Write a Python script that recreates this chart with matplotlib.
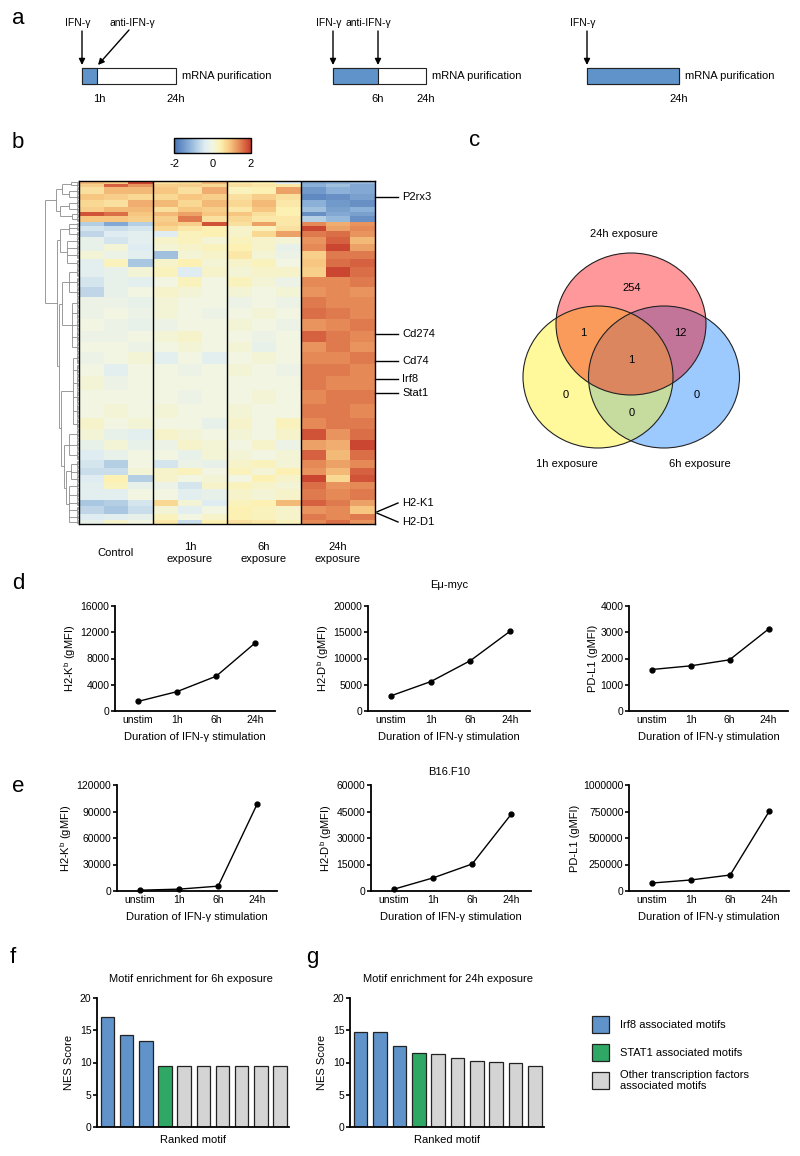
import numpy as np
import matplotlib
matplotlib.use('Agg')
import matplotlib.pyplot as plt
from matplotlib.patches import Rectangle, Ellipse
from matplotlib.colors import LinearSegmentedColormap, to_rgba
from matplotlib.ticker import FuncFormatter

plt.rcParams['font.family'] = ['Liberation Sans', 'DejaVu Sans']
plt.rcParams['mathtext.fontset'] = 'custom'
plt.rcParams['mathtext.rm'] = 'Liberation Sans'
plt.rcParams['axes.unicode_minus'] = False

# ------------------------------------------------------------------ data
# panel a : schematic
schematic_labels = ['1h', '6h', '24h']

# panel b : heatmap (row bands, 12 columns)
heat_group_labels = ['Control', '1h\nexposure', '6h\nexposure', '24h\nexposure']
band_rows = [2, 3, 5, 5, 5, 4, 3, 5, 3, 4, 5, 5, 6, 6, 6, 8, 8, 8, 8, 9, 9,
             9, 8, 9, 9, 11, 11, 11, 9, 8, 8, 8, 6, 6, 5, 6, 8, 5, 6, 5, 3]
band_values = [
    [1.0, 0.9, 1.9, 0.6, 0.7, 1.0, 0.5, 0.4, -0.4, -1.3, -1.2, -1.1],
    [0.8, 1.7, 1.3, 0.8, 0.8, 0.7, 0.6, 0.5, 0.5, -1.2, -1.0, -1.3],
    [0.6, 1.0, 1.0, 0.9, 0.6, 1.1, 0.3, 0.4, 1.2, -1.5, -1.2, -1.3],
    [0.9, 0.8, 0.7, 0.7, 0.9, 0.8, 0.6, 0.8, 0.6, -1.7, -1.6, -1.4],
    [0.7, 0.6, 1.1, 1.0, 0.7, 1.0, 0.7, 1.0, 0.5, -1.2, -1.5, -1.6],
    [0.8, 1.0, 1.0, 0.6, 0.9, 0.8, 0.5, 0.9, 0.4, -1.0, -1.4, -1.2],
    [1.8, 1.6, 0.9, 1.0, 1.2, 0.9, 0.9, 0.6, 0.4, -1.6, -1.3, -1.4],
    [0.9, 0.9, 0.8, 0.8, 1.5, 0.6, 0.7, 0.5, 0.5, -0.8, -1.1, -1.6],
    [-0.8, -1.3, -0.8, 0.9, 0.8, 1.8, 0.6, 1.2, 0.5, 1.4, 1.1, 1.3],
    [-0.5, -0.6, -0.5, 0.7, 0.5, 0.4, 0.2, 0.3, 0.6, 1.9, 1.2, 1.4],
    [-0.7, -0.4, -0.3, -0.4, 0.3, 0.4, 0.2, 0.7, 1.2, 1.5, 1.6, 1.3],
    [-0.2, -0.5, -0.3, 0.2, 0.3, 0.1, 0.3, 0.2, 0.1, 1.3, 1.7, 1.0],
    [-0.2, 0.1, -0.4, 0.1, 0.2, 0.3, 0.4, 0.2, -0.2, 1.4, 1.9, 1.2],
    [0.1, -0.1, -0.3, -1.0, 0.1, 0.2, 0.5, 0.1, -0.1, 0.8, 1.5, 1.5],
    [-0.3, 0.3, -0.9, 0.2, 0.4, 0.1, 0.2, 0.3, 0.0, 0.9, 1.6, 1.7],
    [-0.3, -0.2, 0.1, 0.3, -0.4, 0.2, 0.1, 0.2, 0.2, 0.8, 1.9, 1.6],
    [-0.5, -0.2, -0.3, 0.0, 0.3, 0.0, 0.3, 0.1, -0.1, 1.4, 1.4, 1.5],
    [-0.7, -0.2, 0.0, 0.2, 0.1, 0.0, 0.1, 0.0, 0.1, 1.3, 1.4, 1.3],
    [-0.1, -0.1, -0.2, 0.1, 0.0, 0.0, -0.1, 0.0, -0.1, 1.5, 1.4, 1.4],
    [-0.1, 0.0, -0.1, 0.1, 0.0, -0.1, 0.0, 0.1, 0.0, 1.6, 1.5, 1.4],
    [0.0, -0.1, -0.2, -0.1, 0.0, 0.0, 0.1, 0.0, -0.1, 1.3, 1.4, 1.5],
    [-0.1, -0.1, 0.0, 0.1, 0.2, 0.0, 0.0, -0.1, 0.0, 1.7, 1.5, 1.4],
    [0.0, 0.0, -0.1, 0.0, 0.1, 0.0, 0.1, -0.2, 0.0, 1.3, 1.5, 1.3],
    [-0.1, 0.0, 0.1, -0.3, 0.0, -0.3, 0.0, 0.1, 0.0, 1.4, 1.4, 1.5],
    [0.0, -0.3, 0.0, 0.0, -0.1, 0.0, 0.1, 0.0, -0.1, 1.5, 1.5, 1.4],
    [0.1, -0.1, 0.0, 0.0, 0.0, 0.0, 0.0, 0.0, 0.0, 1.5, 1.4, 1.4],
    [0.0, 0.0, 0.0, 0.0, -0.1, 0.0, 0.0, 0.1, 0.0, 1.4, 1.5, 1.5],
    [0.0, 0.1, 0.0, 0.1, 0.0, 0.0, 0.1, 0.0, 0.0, 1.5, 1.5, 1.4],
    [0.2, 0.0, 0.1, 0.0, 0.0, -0.2, 0.2, 0.0, 0.3, 1.4, 1.5, 1.5],
    [0.1, -0.2, -0.3, 0.2, 0.1, 0.0, 0.1, 0.0, 0.2, 1.8, 1.3, 1.6],
    [-0.2, 0.1, -0.2, -0.1, 0.2, 0.1, 0.0, 0.2, -0.1, 1.2, 1.1, 1.9],
    [-0.4, -0.2, 0.0, 0.0, -0.2, 0.1, 0.1, 0.0, 0.1, 1.7, 1.0, 1.6],
    [-0.5, -0.8, 0.0, -0.5, -0.1, -0.2, 0.2, 0.3, 0.1, 1.4, 1.2, 1.4],
    [-0.6, -0.6, 0.1, 0.2, 0.3, 0.0, 0.3, 0.1, 0.4, 1.3, 1.0, 1.7],
    [-0.4, 0.4, -0.8, 0.2, 0.0, 0.1, 0.0, 0.4, 0.2, 1.9, 0.7, 1.8],
    [-0.3, 0.3, -0.2, -0.1, -0.5, 0.2, 0.3, 0.2, 0.1, 1.6, 1.3, 1.4],
    [-0.3, -0.3, 0.0, 0.0, -0.3, -0.2, 0.2, 0.1, 0.2, 1.5, 1.4, 1.5],
    [-0.9, -0.8, -0.5, 0.7, 0.1, -0.4, 0.3, 0.4, 1.0, 1.7, 1.5, 1.2],
    [-0.7, -0.9, -0.6, 0.1, -0.3, 0.0, 0.4, 0.3, 0.2, 1.3, 1.4, 0.9],
    [-0.4, -0.3, -0.2, 0.3, 0.0, 0.2, 0.4, 0.3, 0.2, 1.5, 1.4, 1.5],
    [-0.2, 0.2, 0.0, 0.5, -0.6, 0.4, 0.6, 0.5, 0.3, 1.4, 1.6, 1.3],
]
gene_labels = ['P2rx3', 'Cd274', 'Cd74', 'Irf8', 'Stat1', 'H2-K1', 'H2-D1']
gene_rows = [12, 119, 140, 154, 165, 258, 259]
# dendrogram: (merge height, children); ints are row bands
dendro_tree = (1.0, [
    (0.68, [(0.50, [(0.25, [0, 1]), (0.30, [2, 3])]),
            (0.55, [(0.28, [4, 5]), (0.22, [6, 7])])]),
    (0.66, [(0.55, [(0.30, [8, 9, 10]), (0.35, [11, 12, 13, 14])]),
            (0.60, [(0.50, [(0.28, [15, 16, 17]), (0.20, [18, 19, 20, 21, 22])]),
                    (0.52, [(0.18, [23, 24, 25, 26, 27, 28]),
                            (0.45, [(0.30, [29, 30, 31]),
                                    (0.38, [(0.25, [32, 33, 34]),
                                            (0.30, [35, 36, 37, 38, 39, 40])])])])])])])

# panel c : Venn (order of key digits: 24h, 1h, 6h)
venn_labels = ['24h exposure', '1h exposure', '6h exposure']
venn_region_keys = ['100', '010', '001', '110', '101', '011', '111']
venn_region_counts = [254, 0, 0, 1, 12, 0, 1]

# panels d, e
durations = ['unstim', '1h', '6h', '24h']
emyc_h2kb = [1450, 2950, 5300, 10400]
emyc_h2db = [2900, 5600, 9600, 15200]
emyc_pdl1 = [1580, 1720, 1950, 3120]
b16_h2kb = [900, 2100, 5500, 99000]
b16_h2db = [1000, 7400, 15300, 43600]
b16_pdl1 = [75000, 104000, 151000, 755000]

# panels f, g
motif_6h = [17.0, 14.2, 13.3, 9.5, 9.4, 9.4, 9.4, 9.4, 9.4, 9.4]
motif_24h = [14.7, 14.7, 12.5, 11.55, 11.3, 10.65, 10.25, 10.1, 9.9, 9.45]
motif_class_6h = ['Irf8', 'Irf8', 'Irf8', 'STAT1'] + ['Other'] * 6
motif_class_24h = ['Irf8', 'Irf8', 'Irf8', 'STAT1'] + ['Other'] * 6
legend_labels = ['Irf8 associated motifs', 'STAT1 associated motifs',
                 'Other transcription factors\nassociated motifs']

# ------------------------------------------------------------------ styles
W, H = 800, 1156
fig = plt.figure(figsize=(8, 11.56), dpi=100)

BLUE = '#5f93c9'
GREEN = '#2fa865'
GREY = '#d4d4d4'
class_colors = {'Irf8': BLUE, 'STAT1': GREEN, 'Other': GREY}


def px_axes(x0, y0, x1, y1, **kw):
    return fig.add_axes([x0 / W, 1 - y1 / H, (x1 - x0) / W, (y1 - y0) / H], **kw)


heat_cmap = LinearSegmentedColormap.from_list('heat', [
    (0.00, '#4672b4'), (0.20, '#8cb1d8'), (0.40, '#dfedf2'), (0.50, '#f1f6e2'),
    (0.60, '#fcf1b2'), (0.72, '#f8c983'), (0.85, '#e68a57'), (1.00, '#c63a2b')])

# ------------------------------------------------------------------ panel b
nrows = sum(band_rows)
heat = np.repeat(np.array(band_values), band_rows, axis=0)
axh = px_axes(79, 181, 375, 524)
im = axh.imshow(heat, cmap=heat_cmap, vmin=-2, vmax=2, aspect='auto',
                interpolation='nearest')
for xsep in (2.5, 5.5, 8.5):
    axh.axvline(xsep, color='black', lw=1)
for sp in axh.spines.values():
    sp.set_linewidth(1)
axh.set_yticks([])
axh.set_xticks([1, 4, 7, 10])
axh.set_xticklabels(heat_group_labels, fontsize=8)
axh.tick_params(axis='x', length=0, pad=21)
for lab in axh.get_xticklabels():
    lab.set_verticalalignment('center')

cax = px_axes(174, 138, 251, 153)
cb = fig.colorbar(im, cax=cax, orientation='horizontal', ticks=[-2, 0, 2])
cb.outline.set_linewidth(1)
cax.tick_params(length=0, labelsize=8, pad=4)

# dendrogram
axd = px_axes(44, 181, 79, 524)
axd.set_ylim(nrows - 0.5, -0.5)
axd.set_xlim(1.03, 0)
axd.axis('off')
band_start = np.concatenate([[0], np.cumsum(band_rows)[:-1]])
DC, DLW = '#8a8a8a', 0.6


def draw_dendro(node):
    if isinstance(node, (int, np.integer)):
        rows = np.arange(band_start[node], band_start[node] + band_rows[node])
        lx = 0.06
        axd.hlines(rows, 0, lx, color=DC, lw=DLW)
        axd.vlines(lx, rows[0], rows[-1], color=DC, lw=DLW)
        return rows.mean(), lx
    h, children = node
    pts = [draw_dendro(ch) for ch in children]
    ys = [p[0] for p in pts]
    for y, x in pts:
        axd.hlines(y, x, h, color=DC, lw=DLW)
    axd.vlines(h, min(ys), max(ys), color=DC, lw=DLW)
    return (min(ys) + max(ys)) / 2, h


draw_dendro(dendro_tree)

# ------------------------------------------------------------------ panels d, e
plain = FuncFormatter(lambda v, p: f'{int(round(v))}')


def line_panel(box, vals, ymax, yticks, ylabel):
    ax = px_axes(*box)
    ax.plot(range(len(durations)), vals, '-o', color='black', lw=1, ms=3.5,
            clip_on=False)
    ax.set_xlim(-0.58, 3.5)
    ax.set_ylim(0, ymax)
    ax.set_yticks(yticks)
    ax.yaxis.set_major_formatter(plain)
    ax.set_xticks(range(len(durations)))
    ax.set_xticklabels(durations)
    for s in ('top', 'right'):
        ax.spines[s].set_visible(False)
    for s in ('left', 'bottom'):
        ax.spines[s].set_linewidth(1.3)
    ax.tick_params(axis='y', direction='out', length=3, width=1.2,
                   labelsize=7.5, pad=1)
    ax.tick_params(axis='x', length=0, labelsize=7.5, pad=3)
    ax.set_ylabel(ylabel, fontsize=8, labelpad=2)
    ax.set_xlabel('Duration of IFN-γ stimulation', fontsize=8, labelpad=5)
    return ax


KB = 'H2-K$^{\\mathregular{b}}$ (gMFI)'
DB = 'H2-D$^{\\mathregular{b}}$ (gMFI)'
line_panel((115, 606, 275, 711), emyc_h2kb, 16000, [0, 4000, 8000, 12000, 16000], KB)
line_panel((368, 606, 530, 711), emyc_h2db, 20000, [0, 5000, 10000, 15000, 20000], DB)
line_panel((629, 606, 788, 711), emyc_pdl1, 4000, [0, 1000, 2000, 3000, 4000], 'PD-L1 (gMFI)')
line_panel((117, 785, 277, 891), b16_h2kb, 120000, [0, 30000, 60000, 90000, 120000], KB)
line_panel((371, 785, 531, 891), b16_h2db, 60000, [0, 15000, 30000, 45000, 60000], DB)
line_panel((629, 785, 789, 891), b16_pdl1, 1000000,
           [0, 250000, 500000, 750000, 1000000], 'PD-L1 (gMFI)')

# ------------------------------------------------------------------ panels f, g
def bar_panel(box, vals, classes):
    ax = px_axes(*box)
    ax.bar(range(len(vals)), vals, width=0.7,
           color=[class_colors[c] for c in classes],
           edgecolor='#222222', lw=0.9)
    ax.set_xlim(-0.55, len(vals) - 0.53)
    ax.set_ylim(0, 20)
    ax.set_yticks([0, 5, 10, 15, 20])
    ax.set_xticks([])
    for s in ('top', 'right'):
        ax.spines[s].set_visible(False)
    for s in ('left', 'bottom'):
        ax.spines[s].set_linewidth(1.3)
    ax.tick_params(axis='y', direction='out', length=3, width=1.2,
                   labelsize=7.5, pad=1)
    ax.set_ylabel('NES Score', fontsize=8, labelpad=4)
    ax.set_xlabel('Ranked motif', fontsize=8, labelpad=6)
    return ax


bar_panel((97, 998, 289, 1127), motif_6h, motif_class_6h)
bar_panel((350, 998, 544, 1127), motif_24h, motif_class_24h)

# ------------------------------------------------------------------ overlay
ov = fig.add_axes([0, 0, 1, 1])
ov.set_xlim(0, W)
ov.set_ylim(H, 0)
ov.axis('off')
ov.patch.set_alpha(0)

# panel letters
for letter, (x, y) in {'a': (12, 24), 'b': (12, 148), 'c': (469, 146),
                       'd': (12, 589), 'e': (12, 792), 'f': (10, 963),
                       'g': (306, 963)}.items():
    ov.text(x, y, letter, fontsize=16, ha='left', va='baseline')

# panel a schematic
def timeline(x0, width, blue_w, hour_label, hour_x, antibody_x=None,
             antibody_text_x=None, diagonal=False):
    ov.add_patch(Rectangle((x0, 68), width, 16, facecolor='white',
                           edgecolor='#222222', lw=0.8))
    ov.add_patch(Rectangle((x0, 68), blue_w, 16, facecolor=BLUE,
                           edgecolor='#222222', lw=0.8))
    ov.text(x0 + width + 6, 76, 'mRNA purification', fontsize=8,
            ha='left', va='center')
    ov.text(x0 + width, 99, '24h', fontsize=8, ha='center', va='center')
    if hour_label:
        ov.text(hour_x, 99, hour_label, fontsize=8, ha='center', va='center')
    ov.text(x0 - 4, 23, 'IFN-γ', fontsize=7.5, ha='center', va='center')
    ap = dict(arrowstyle='-|>', color='black', lw=1, mutation_scale=9,
              shrinkA=0, shrinkB=0)
    ov.annotate('', xy=(x0, 65), xytext=(x0, 31), arrowprops=ap)
    if antibody_x is not None:
        ov.text(antibody_text_x, 23, 'anti-IFN-γ', fontsize=7.5,
                ha='center', va='center')
        if diagonal:
            ov.annotate('', xy=(antibody_x, 65), xytext=(129, 30), arrowprops=ap)
        else:
            ov.annotate('', xy=(antibody_x, 65), xytext=(antibody_x, 31),
                        arrowprops=ap)


timeline(82, 94, 15, schematic_labels[0], 99, antibody_x=98,
         antibody_text_x=132, diagonal=True)
timeline(333, 93, 45, schematic_labels[1], 378, antibody_x=378,
         antibody_text_x=368)
timeline(587, 92, 92, None, None)

# heatmap gene labels
def row_to_px(r):
    return 181 + (r + 0.5) * 343 / nrows


for g, r in zip(gene_labels[:5], gene_rows[:5]):
    y = row_to_px(r)
    ov.plot([375, 398], [y, y], color='black', lw=1)
    ov.text(402, y, g, fontsize=8, ha='left', va='center')
for g, r, ty in zip(gene_labels[5:], gene_rows[5:], (503, 522)):
    y = row_to_px(r)
    ov.plot([377, 398], [y, ty], color='black', lw=1)
    ov.text(402, ty, g, fontsize=8, ha='left', va='center')

# panel c Venn
circles = [(631, 324, 75, 71), (598, 377, 75, 71), (664, 377, 75.5, 71)]
region_colors = {'100': '#fe989a', '010': '#fff99b', '001': '#9ccaff',
                 '110': '#fb9b5b', '101': '#c27599', '011': '#c6dc9e',
                 '111': '#dc8660'}
gx = np.arange(515, 746, 0.5) + 0.25
gy = np.arange(245, 456, 0.5) + 0.25
GX, GY = np.meshgrid(gx, gy)
masks = [((GX - cx) / rx) ** 2 + ((GY - cy) / ry) ** 2 <= 1 for cx, cy, rx, ry in circles]
rgba = np.zeros(GX.shape + (4,))
for key in venn_region_keys:
    m = np.ones(GX.shape, bool)
    for bit, mk in zip(key, masks):
        m &= mk if bit == '1' else ~mk
    rgba[m] = to_rgba(region_colors[key])
ov.imshow(rgba, extent=(515, 746, 456, 245), interpolation='nearest',
          aspect='auto', zorder=1)
for cx, cy, rx, ry in circles:
    ov.add_patch(Ellipse((cx, cy), 2 * rx, 2 * ry, fill=False,
                         edgecolor='#222222', lw=0.8, zorder=2))
count_pos = {'100': (632, 288), '110': (583, 333), '101': (680, 333),
             '111': (631, 360), '010': (566, 395), '011': (632, 413),
             '001': (697, 395)}
for key, n in zip(venn_region_keys, venn_region_counts):
    ov.text(*count_pos[key], str(n), fontsize=8, ha='center', va='center', zorder=3)
for lab, pos in zip(venn_labels, [(624, 234), (567, 464), (700, 464)]):
    ov.text(*pos, lab, fontsize=8, ha='center', va='center')
ov.set_xlim(0, W)
ov.set_ylim(H, 0)

# titles for d/e/f/g
ov.text(449, 585, 'Eμ-myc', fontsize=8, ha='center', va='center')
ov.text(449, 772, 'B16.F10', fontsize=8, ha='center', va='center')
ov.text(191, 979, 'Motif enrichment for 6h exposure', fontsize=8,
        ha='center', va='center')
ov.text(448, 979, 'Motif enrichment for 24h exposure', fontsize=8,
        ha='center', va='center')

# legend for f/g
for i, (lab, cls) in enumerate(zip(legend_labels, ['Irf8', 'STAT1', 'Other'])):
    y0 = 1016 + i * 28
    ov.add_patch(Rectangle((592, y0), 17, 17, facecolor=class_colors[cls],
                           edgecolor='#222222', lw=0.9))
    ov.text(620, y0 + 8.5, lab, fontsize=8, ha='left', va='center',
            linespacing=1.15)

fig.savefig('out.png', dpi=100)
